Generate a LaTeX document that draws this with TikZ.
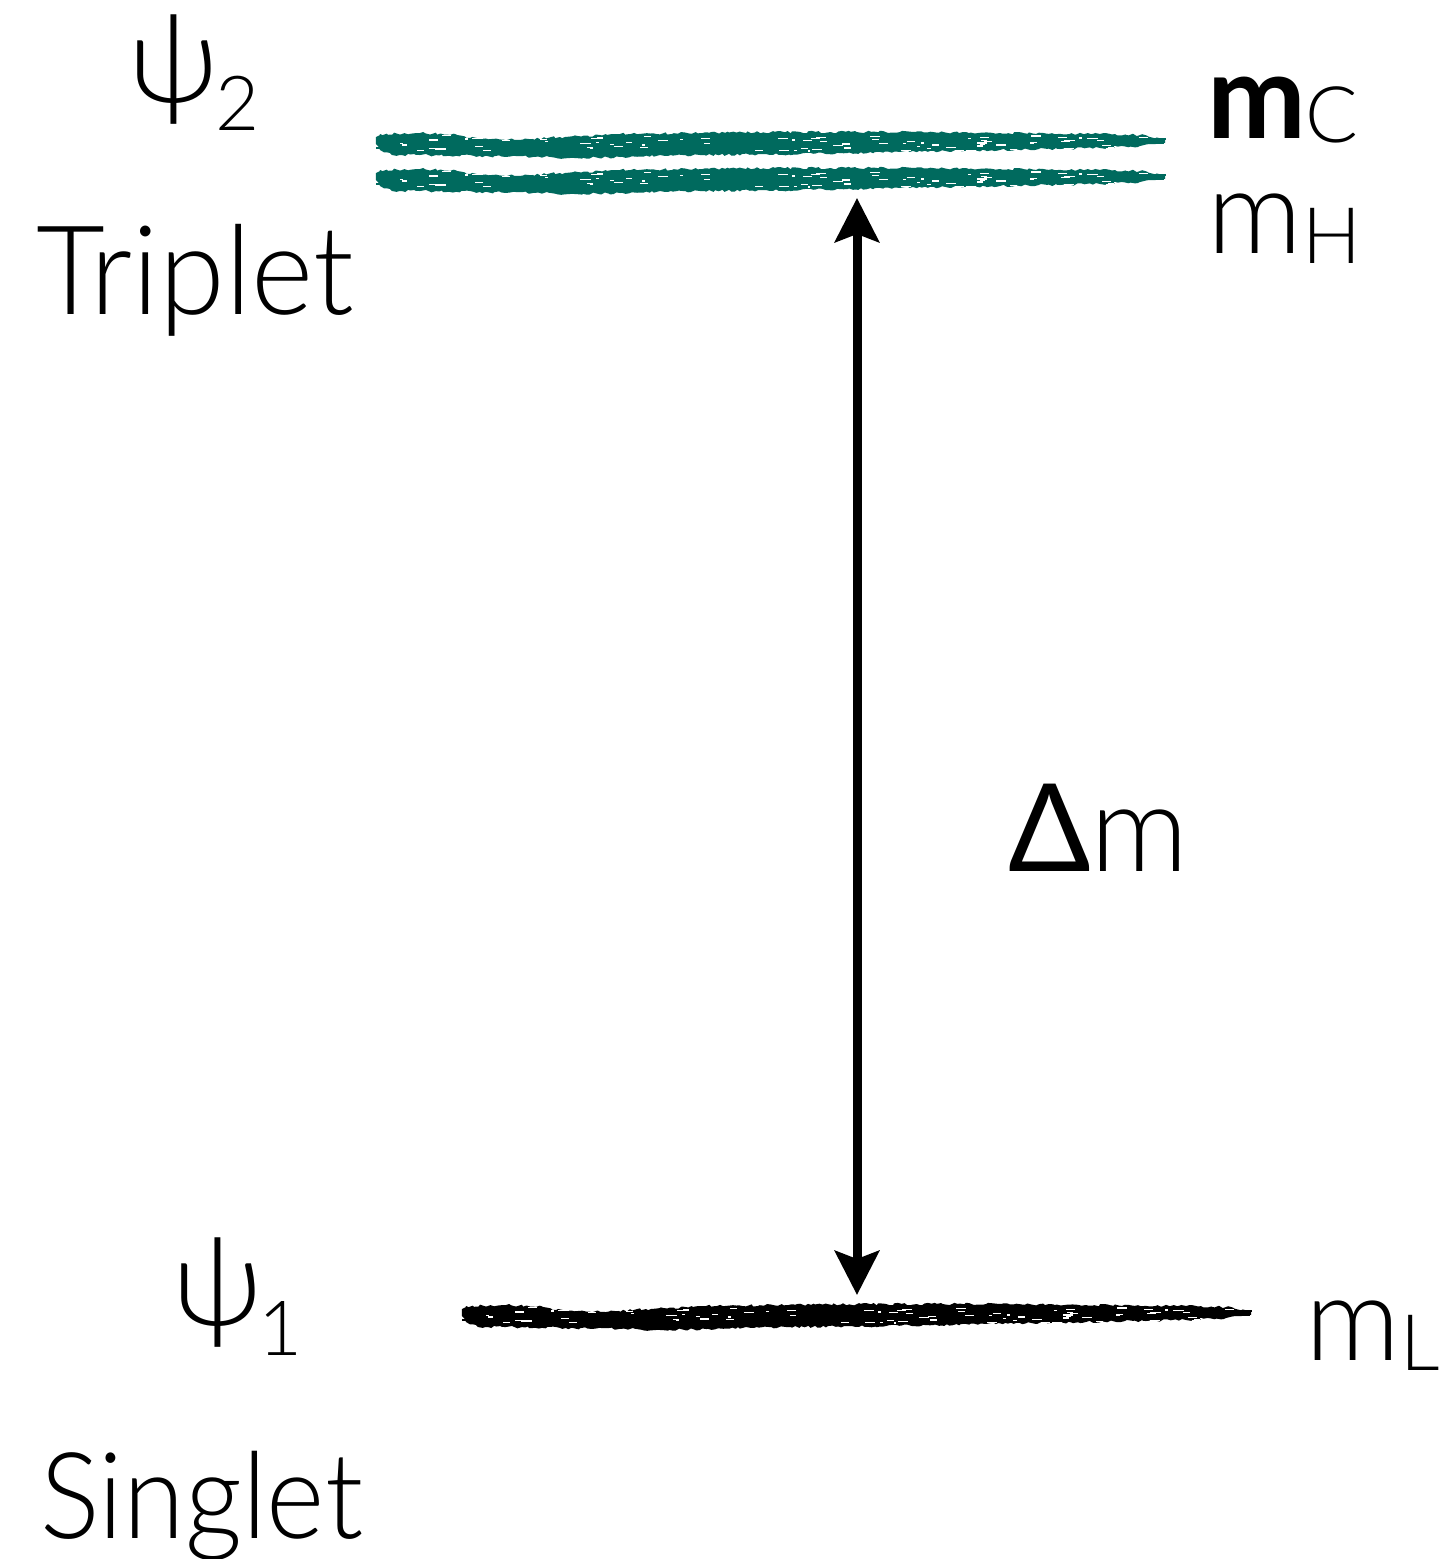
\documentclass[tikz,border=0pt]{standalone}
\usepackage{fontspec}
\setmainfont{Lato Light}[BoldFont=Lato Bold]
\newfontfamily\midfont{Lato}
\usetikzlibrary{arrows.meta,decorations.pathmorphing}

\definecolor{tealbrush}{RGB}{0,106,94}

% font size helper (size in pt)
\newcommand\fsz[1]{\fontsize{#1}{#1}\selectfont}

% one dry-brush energy level, drawn in pixel coordinates around x=374..1165, y=132..158
\newcommand\brushlevel[1]{%
  \begin{scope}
    \pgfmathsetseed{17}
    \fill[#1, decorate, decoration={random steps, segment length=3pt, amplitude=1.2pt}]
      (376,137) -- (380,134) -- (420,133) -- (455,134) -- (470,138) -- (520,140)
      -- (560,137) -- (620,134) -- (700,133) -- (800,132) -- (900,132) -- (1000,133)
      -- (1100,134) -- (1140,135) -- (1165,139)
      -- (1165,143) -- (1140,146) -- (1100,148) -- (1000,150) -- (900,152) -- (800,154)
      -- (700,155) -- (620,157) -- (570,158) -- (540,157) -- (480,156) -- (420,155)
      -- (392,155) -- (380,150) -- (376,144) -- cycle;
    % loose bristle streaks at the ends
    \fill[#1] (376,147) rectangle ++(10,1.5);
    \fill[#1] (1140,138) rectangle ++(26,1.5);
    \fill[#1] (1150,143) rectangle ++(14,1.2);
    % dry flecks inside the stroke
    \foreach \i in {1,...,90}{
      \pgfmathsetmacro{\fx}{400+740*rnd}
      \pgfmathsetmacro{\fy}{135+16*rnd}
      \pgfmathsetmacro{\fl}{2+9*rnd}
      \fill[white] (\fx,\fy) rectangle ++(\fl,1.3);
    }
  \end{scope}}

\begin{document}
\begin{tikzpicture}[x=1pt,y=-1pt,
  txt/.style={inner sep=0pt, outer sep=0pt, anchor=base west},
  gap/.style={line width=9pt,
    {Stealth[length=44pt,width=44pt,inset=8pt]}-{Stealth[length=44pt,width=44pt,inset=8pt]}}]
  \useasboundingbox[fill=white] (0,0) rectangle (1446,1559);

  % energy levels
  \brushlevel{tealbrush}
  \begin{scope}[shift={(0,36)}]
    \brushlevel{tealbrush}
  \end{scope}
  \begin{scope}[shift={(86,1172)}]
    \brushlevel{black}
  \end{scope}

  \coordinate (upper) at (857,198);
  \coordinate (lower) at (857,1295);

  % mass splitting
  \draw[gap] (upper) -- (lower);

  % labels on the left
  \node[txt] (psiTwo) at (128,102) {\fsz{124}ψ\kern-3pt\raisebox{-28pt}{\fsz{76}2}};
  \node[txt] (triplet) at (36,314) {\scalebox{0.96}[1]{\fsz{124}Triplet}};
  \node[txt] (psiOne) at (172,1325) {\fsz{124}ψ\kern-4pt\raisebox{-30pt}{\fsz{76}1}};
  \node[txt] (singlet) at (40,1538) {\scalebox{0.93}[1]{\fsz{120}Singlet}};

  % labels on the right
  \node[txt] (mC) at (1207,138) {\fsz{118}\textbf{m}\raisebox{-4pt}{\fsz{78}C}};
  \node[txt] (mH) at (1207,253) {\fsz{118}m\raisebox{-10pt}{\fsz{78}H}};
  \node[txt] (mL) at (1305,1360) {\fsz{118}m\raisebox{-10pt}{\fsz{78}L}};
  \node[txt] (dm) at (1008,871) {\fsz{122}{\midfont Δ}m};
\end{tikzpicture}
\end{document}
